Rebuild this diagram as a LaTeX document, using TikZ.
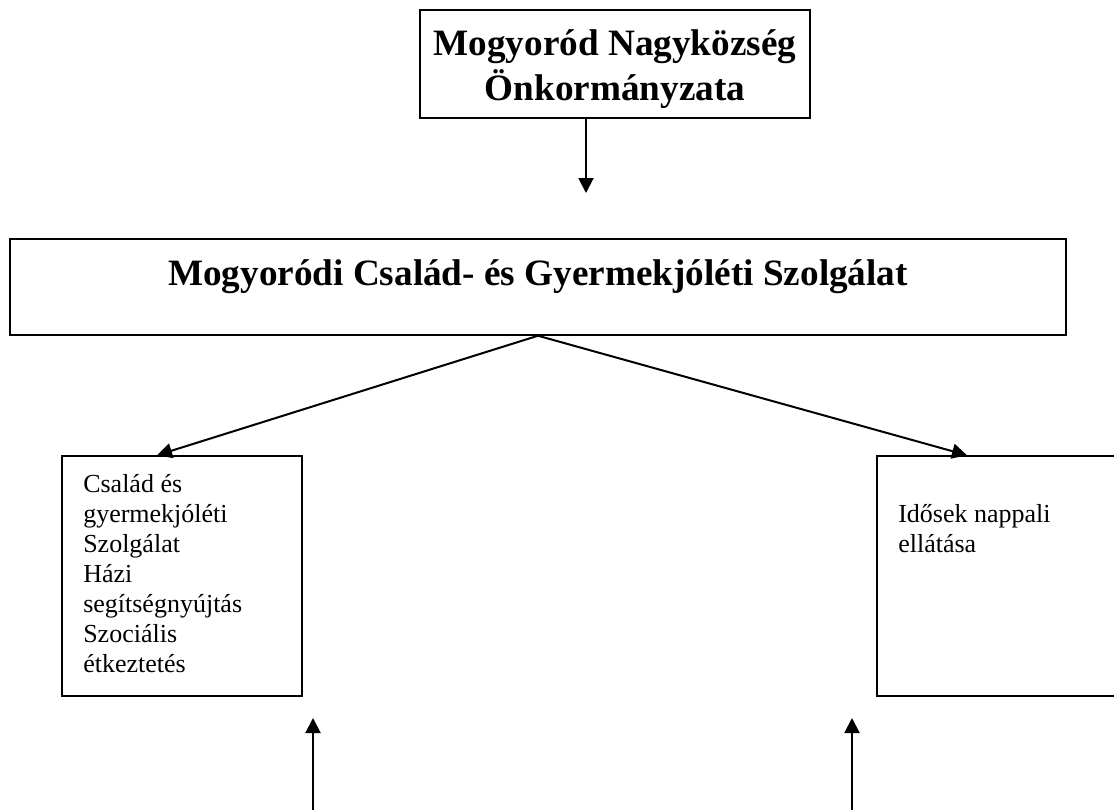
\documentclass[tikz,border=0pt]{standalone}
\usepackage{fontspec}
\setmainfont{Liberation Serif}
\usetikzlibrary{arrows.meta}
\begin{document}
\begin{tikzpicture}[x=0.75pt,y=-0.75pt,
  boxframe/.style={draw=black,line width=1.1pt,rectangle,inner sep=0pt},
  titletext/.style={inner sep=0pt,font=\fontsize{27.9}{33.75}\selectfont\bfseries},
  bodytext/.style={inner sep=0pt,anchor=base west},
  conn/.style={line width=1.5pt,-{Triangle[length=11.25pt,width=11.25pt]}}]
\useasboundingbox (0,0) rectangle (1114,810);
% top box
\node[boxframe,minimum width=390*0.75pt,minimum height=108*0.75pt] (tbox) at (615,64) {};
\node[titletext,anchor=base] (tt1) at (615,55) {Mogyoród Nagyközség};
\node[titletext,anchor=base] (tt2) at (615,100) {Önkormányzata};
% middle box
\node[boxframe,minimum width=1056*0.75pt,minimum height=96*0.75pt] (mbox) at (538,287) {};
\node[titletext,anchor=base] (mt) at (538,285) {Mogyoródi Család- és Gyermekjóléti Szolgálat};
% left box
\node[boxframe,minimum width=240*0.75pt,minimum height=240*0.75pt] (lbox) at (182,576) {};
\node[bodytext] (lt) at (83,492) {\parbox[t]{200pt}{\raggedright\fontsize{19.5}{22.5}\selectfont Család és\\ gyermekjóléti\\ Szolgálat\\ Házi\\ segítségnyújtás\\ Szociális\\ étkeztetés}};
% right box
\node[boxframe,minimum width=240*0.75pt,minimum height=240*0.75pt] (rbox) at (997,576) {};
\node[bodytext] (rt) at (898,522) {\parbox[t]{200pt}{\raggedright\fontsize{19.5}{22.5}\selectfont Idősek nappali\\ ellátása}};
% connector ends
\coordinate (a1) at (586,193);
\coordinate (b1) at (313,810);
\coordinate (b1t) at (313,718);
\coordinate (b2) at (852,810);
\coordinate (b2t) at (852,718);
\draw[conn] (tbox.south -| a1) -- (a1);
\draw[conn] (mbox.south) -- (lbox.north -| 157,0);
\draw[conn] (mbox.south) -- (rbox.north -| 967,0);
\draw[conn] (b1) -- (b1t);
\draw[conn] (b2) -- (b2t);
\end{tikzpicture}
\end{document}
